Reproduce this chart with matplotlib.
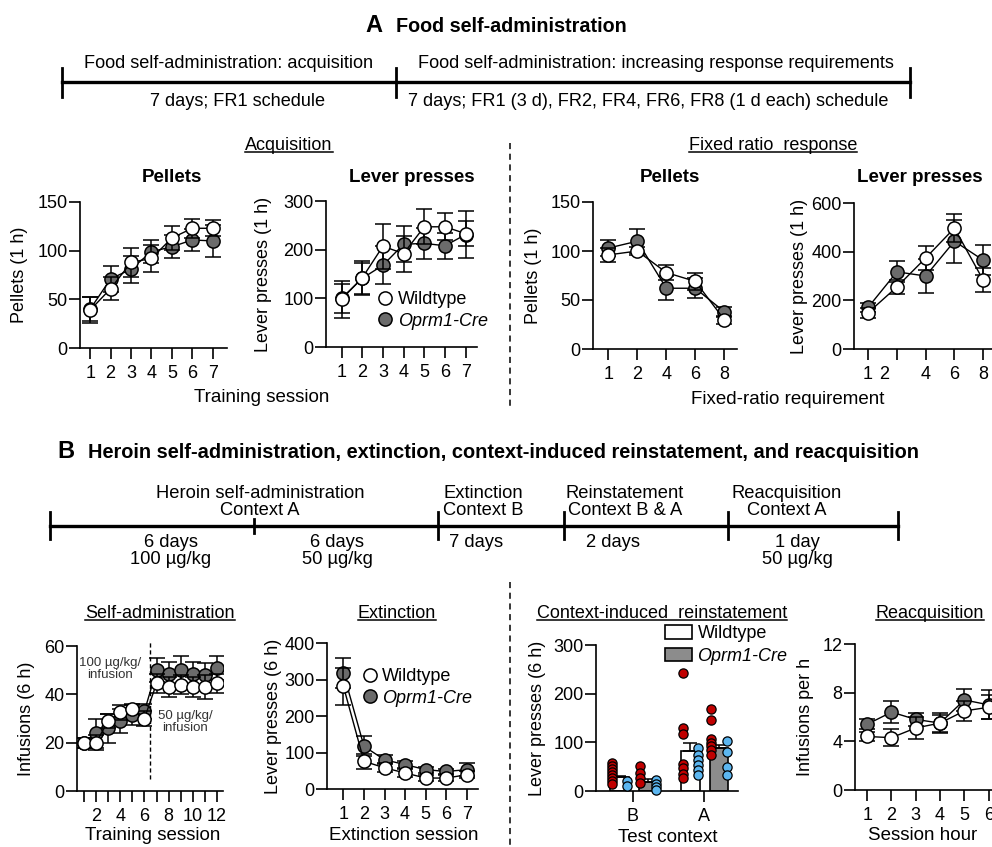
import matplotlib
matplotlib.use("Agg")
import matplotlib.pyplot as plt
from matplotlib.lines import Line2D
from matplotlib.patches import Patch

plt.rcParams["font.family"] = ["Liberation Sans", "DejaVu Sans"]

W, H = 992, 847
GRAY = "#6b6b6b"
BAR_GRAY = "#8c8c8c"
RED = "#c00000"
BLUE = "#5cb6f0"

# ---------------- A: food self-administration ----------------
acq_session = [1, 2, 3, 4, 5, 6, 7]
acq_pel_wt = [39, 61, 88, 92, 113, 123, 123]
acq_pel_wt_sem = [13, 12, 15, 14, 12, 10, 8]
acq_pel_cre = [40, 71, 81, 99, 104, 111, 110]
acq_pel_cre_sem = [12, 13, 14, 12, 12, 11, 16]
acq_lev_wt = [98, 142, 207, 192, 247, 247, 233]
acq_lev_wt_sem = [38, 35, 46, 37, 36, 28, 26]
acq_lev_cre = [100, 141, 168, 211, 213, 208, 231]
acq_lev_cre_sem = [30, 32, 39, 37, 32, 27, 49]

fr_labels = ["1", "2", "4", "6", "8"]
fr_pel_wt = [96, 100, 78, 69, 30]
fr_pel_wt_sem = [7, 4, 8, 9, 4]
fr_pel_cre = [103, 110, 62, 62, 38]
fr_pel_cre_sem = [8, 12, 12, 10, 5]
fr_lev_wt = [149, 255, 374, 497, 283]
fr_lev_wt_sem = [20, 30, 48, 59, 50]
fr_lev_cre = [171, 317, 300, 443, 365]
fr_lev_cre_sem = [20, 43, 68, 89, 62]

# ---------------- B: heroin ----------------
sa_session = [1, 2, 3, 4, 5, 6, 7, 8, 9, 10, 11, 12]
sa_wt = [20, 20, 29, 32.5, 34, 30, 44.5, 43, 44, 43, 43, 44.5]
sa_wt_sem = [2, 3, 3, 3, 2, 3, 4, 4, 4, 4, 5, 4]
sa_cre = [20, 24, 26, 29, 31.5, 33, 50, 48.5, 50, 48.5, 48, 51]
sa_cre_sem = [2, 6, 6, 5, 4, 3, 5, 5, 6, 5, 5, 5]

ext_session = [1, 2, 3, 4, 5, 6, 7]
ext_wt = [281, 76, 58, 44, 30, 30, 39]
ext_wt_sem = [50, 20, 12, 10, 8, 8, 10]
ext_cre = [318, 117, 80, 67, 53, 48, 53]
ext_cre_sem = [41, 27, 12, 10, 8, 8, 18]

reins_context = ["B", "A"]
reins_wt_mean = [28, 83]
reins_wt_sem = [3, 15]
reins_cre_mean = [19, 88]
reins_cre_sem = [5, 7]
reins_wt_red = [[58, 52, 46, 40, 33, 27, 20, 15], [243, 129, 118, 55, 47, 35, 26]]
reins_wt_blue = [[20, 11], [88, 74, 64, 53, 43, 33]]
reins_cre_red = [[51, 36, 26, 17], [168, 145, 107, 98, 92, 84, 74]]
reins_cre_blue = [[22, 15, 8, 2], [103, 81, 50, 33]]

reacq_hour = [1, 2, 3, 4, 5, 6]
reacq_wt = [4.4, 4.3, 5.1, 5.5, 6.5, 6.8]
reacq_wt_sem = [0.4, 0.7, 0.9, 0.8, 0.8, 1.0]
reacq_cre = [5.4, 6.4, 5.8, 5.5, 7.4, 7.0]
reacq_cre_sem = [0.4, 0.9, 0.5, 0.7, 0.9, 1.2]

fig = plt.figure(figsize=(W / 100, H / 100), dpi=100)

# overlay in pixel coordinates for headers / timelines
ov = fig.add_axes([0, 0, 1, 1])
ov.set_xlim(0, W)
ov.set_ylim(H, 0)
ov.axis("off")


def make_ax(left, right, top, bottom):
    return fig.add_axes([left / W, 1 - bottom / H, (right - left) / W, (bottom - top) / H])


def style_ax(ax, xlim, ylim, yticks, ylabel, ylabel_x):
    ax.set_xlim(xlim)
    ax.set_ylim(ylim)
    ax.set_yticks(yticks)
    for s in ("top", "right"):
        ax.spines[s].set_visible(False)
    for s in ("left", "bottom"):
        ax.spines[s].set_linewidth(1.2)
    ax.tick_params(direction="out", length=8, width=1.2, labelsize=13)
    ax.tick_params(axis="y", pad=1)
    ax.tick_params(axis="x", pad=4)
    ax.patch.set_visible(False)
    ax.set_ylabel(ylabel, fontsize=13)
    # ylabel_x in figure pixels
    bb = ax.get_position()
    ax.yaxis.set_label_coords((ylabel_x / W - bb.x0) / bb.width, 0.5)
    ax.yaxis.label.set_va("center")


def two_groups(ax, x, wt, wt_sem, cre, cre_sem):
    kw = dict(fmt="-o", color="black", mec="black", ms=9.5, mew=1.1, lw=1.0,
              capsize=5.5, capthick=1.1, elinewidth=1.1)
    ax.errorbar(x, cre, yerr=cre_sem, mfc=GRAY, zorder=3, **kw)
    ax.errorbar(x, wt, yerr=wt_sem, mfc="white", zorder=4, **kw)


def circle_legend(ax, anchor):
    handles = [Line2D([], [], marker="o", ls="none", mfc="white", mec="black", ms=9.5, mew=1.1),
               Line2D([], [], marker="o", ls="none", mfc=GRAY, mec="black", ms=9.5, mew=1.1)]
    leg = ax.legend(handles, ["Wildtype", "Oprm1-Cre"], loc="center left", bbox_to_anchor=anchor,
                    frameon=False, fontsize=13, handletextpad=0.1, labelspacing=0.25,
                    handlelength=1.2, borderaxespad=0, borderpad=0)
    leg.get_texts()[1].set_style("italic")


# ---- A1 pellets acquisition
ax1 = make_ax(80, 227, 202, 348)
two_groups(ax1, acq_session, acq_pel_wt, acq_pel_wt_sem, acq_pel_cre, acq_pel_cre_sem)
style_ax(ax1, (0.5, 7.7), (0, 150), [0, 50, 100, 150], "Pellets (1 h)", 19)
ax1.set_xticks(acq_session)

# ---- A2 lever presses acquisition
ax2 = make_ax(326, 477, 201, 347)
two_groups(ax2, acq_session, acq_lev_wt, acq_lev_wt_sem, acq_lev_cre, acq_lev_cre_sem)
style_ax(ax2, (0.25, 7.55), (0, 300), [0, 100, 200, 300], "Lever presses (1 h)", 264)
ax2.set_xticks(acq_session)
circle_legend(ax2, (0.32, 0.25))

# ---- A3 pellets fixed ratio
fr_pos = list(range(len(fr_labels)))
ax3 = make_ax(593, 737, 202, 349)
two_groups(ax3, fr_pos, fr_pel_wt, fr_pel_wt_sem, fr_pel_cre, fr_pel_cre_sem)
style_ax(ax3, (-0.53, 4.44), (0, 150), [0, 50, 100, 150], "Pellets (1 h)", 533)
ax3.set_xticks(fr_pos)
ax3.set_xticklabels(fr_labels)

# ---- A4 lever presses fixed ratio (runs off the right edge)
ax4 = make_ax(854, 1012, 203, 349)
two_groups(ax4, fr_pos, fr_lev_wt, fr_lev_wt_sem, fr_lev_cre, fr_lev_cre_sem)
style_ax(ax4, (-0.49, 5.0), (0, 600), [0, 200, 400, 600], "Lever presses (1 h)", 800)
ax4.set_xticks(fr_pos)
ax4.set_xticklabels([fr_labels[0], ""] + fr_labels[2:])
ax4.set_xticks([0.56], [fr_labels[1]], minor=True)
ax4.tick_params(axis="x", which="minor", length=0, labelsize=13, pad=12.5)

# ---- B1 self-administration
ax5 = make_ax(77, 223, 646, 791)
two_groups(ax5, sa_session, sa_wt, sa_wt_sem, sa_cre, sa_cre_sem)
style_ax(ax5, (0.42, 12.5), (0, 60), [0, 20, 40, 60], "Infusions (6 h)", 27)
ax5.set_xticks(sa_session)
ax5.set_xticklabels([str(s) if s % 2 == 0 else "" for s in sa_session])
ax5.plot([6.5, 6.5], [5, 62], ls=(0, (3, 2)), color="black", lw=1.0, clip_on=False, zorder=2)
ax5.text(3.15, 50.5, "100 µg/kg/\ninfusion", ha="center", va="center", fontsize=9.5,
         color="#333333", linespacing=1.05, zorder=5)
ax5.text(9.35, 28.5, "50 µg/kg/\ninfusion", ha="center", va="center", fontsize=9.5,
         color="#333333", linespacing=1.05, zorder=5)

# ---- B2 extinction
ax6 = make_ax(327, 478, 643, 789)
two_groups(ax6, ext_session, ext_wt, ext_wt_sem, ext_cre, ext_cre_sem)
style_ax(ax6, (0.2, 7.55), (0, 400), [0, 100, 200, 300, 400], "Lever presses (6 h)", 273)
ax6.set_xticks(ext_session)
circle_legend(ax6, (0.21, 0.695))

# ---- B3 reinstatement
ax7 = make_ax(596, 738, 645, 791)
ctx = list(range(len(reins_context)))
wt_off, cre_off, dot_off, bw = -0.19, 0.21, 0.11, 0.26
bar_kw = dict(width=bw, edgecolor="black", linewidth=1.2, capsize=5, zorder=2,
              error_kw=dict(elinewidth=1.1, capthick=1.1, ecolor="black"))
ax7.bar([c + wt_off for c in ctx], reins_wt_mean, color="white",
        yerr=[[0] * len(ctx), reins_wt_sem], **bar_kw)
ax7.bar([c + cre_off for c in ctx], reins_cre_mean, color=BAR_GRAY,
        yerr=[[0] * len(ctx), reins_cre_sem], **bar_kw)
dot_kw = dict(s=44, edgecolors="black", linewidths=0.9, zorder=4, clip_on=False)
for c in ctx:
    ax7.scatter([c + wt_off - dot_off] * len(reins_wt_red[c]), reins_wt_red[c], c=RED, **dot_kw)
    ax7.scatter([c + wt_off + dot_off] * len(reins_wt_blue[c]), reins_wt_blue[c], c=BLUE, **dot_kw)
    ax7.scatter([c + cre_off - dot_off] * len(reins_cre_red[c]), reins_cre_red[c], c=RED, **dot_kw)
    ax7.scatter([c + cre_off + dot_off] * len(reins_cre_blue[c]), reins_cre_blue[c], c=BLUE, **dot_kw)
style_ax(ax7, (-0.52, 1.48), (0, 300), [0, 100, 200, 300], "Lever presses (6 h)", 537)
ax7.set_xticks(ctx)
ax7.set_xticklabels(reins_context)
leg = ax7.legend([Patch(facecolor="white", edgecolor="black", lw=1.2),
                  Patch(facecolor=BAR_GRAY, edgecolor="black", lw=1.2)],
                 ["Wildtype", "Oprm1-Cre"], loc="center left", bbox_to_anchor=(0.486, 1.0),
                 frameon=False, fontsize=13, handlelength=1.5, handleheight=0.8,
                 handletextpad=0.3, labelspacing=0.28, borderaxespad=0, borderpad=0)
leg.get_texts()[1].set_style("italic")

# ---- B4 reacquisition (runs off the right edge)
ax8 = make_ax(855, 1013, 644, 790)
two_groups(ax8, reacq_hour, reacq_wt, reacq_wt_sem, reacq_cre, reacq_cre_sem)
style_ax(ax8, (0.5, 7.0), (0, 12), [0, 4, 8, 12], "Infusions per h", 805)
ax8.set_xticks(reacq_hour)

# ---------------- headers, timelines, titles ----------------
ov.text(374, 26, "A", ha="center", va="center", fontsize=17, fontweight="bold")
ov.text(396, 27, "Food self-administration", ha="left", va="center", fontsize=14.2, fontweight="bold")
ov.text(66, 452, "B", ha="center", va="center", fontsize=17, fontweight="bold")
ov.text(88, 453, "Heroin self-administration, extinction, context-induced reinstatement, and reacquisition",
        ha="left", va="center", fontsize=14.4, fontweight="bold")

# timeline A
ov.plot([62, 910], [82, 82], color="black", lw=2.4)
for x in [62, 396, 910]:
    ov.plot([x, x], [68, 97], color="black", lw=2)
tl_a_top = ["Food self-administration: acquisition",
            "Food self-administration: increasing response requirements"]
tl_a_bot = ["7 days; FR1 schedule",
            "7 days; FR1 (3 d), FR2, FR4, FR6, FR8 (1 d each) schedule"]
for x, s in zip([229, 656], tl_a_top):
    ov.text(x, 63, s, ha="center", va="center", fontsize=13.1)
for x, s in zip([238, 648], tl_a_bot):
    ov.text(x, 102, s, ha="center", va="center", fontsize=13.1)

# timeline B
ov.plot([50, 898], [526, 526], color="black", lw=2.4)
for x in [50, 438, 564, 728, 898]:
    ov.plot([x, x], [512, 539], color="black", lw=2)
ov.plot([254, 254], [519, 533], color="black", lw=2)
tl_b_top = ["Heroin self-administration\nContext A", "Extinction\nContext B",
            "Reinstatement\nContext B & A", "Reacquisition\nContext A"]
tl_b_bot = ["6 days\n100 µg/kg", "6 days\n50 µg/kg", "7 days", "2 days", "1 day\n50 µg/kg"]
for x, s in zip([260, 483, 625, 787], tl_b_top):
    ov.text(x, 519, s, ha="center", va="bottom", fontsize=13.2, linespacing=1.0)
for x, s in zip([171, 337, 476, 613, 797], tl_b_bot):
    ov.text(x, 534, s, ha="center", va="top", fontsize=13.2, linespacing=1.0)

# separators
ov.plot([510, 510], [143, 407], color="black", lw=1.1, ls=(0, (4, 3)))
ov.plot([510, 510], [582, 845], color="black", lw=1.1, ls=(0, (4, 3)))

# panel titles
for x, s in zip([172, 412, 670, 920], ["Pellets", "Lever presses", "Pellets", "Lever presses"]):
    ov.text(x, 177, s, ha="center", va="center", fontsize=13.5, fontweight="bold")

# axis x labels
xlabels = [(262, 397, "Training session"), (788, 400, "Fixed-ratio requirement"),
           (153, 835, "Training session"), (404, 835, "Extinction session"),
           (668, 838, "Test context"), (923, 835, "Session hour")]
for x, y, s in xlabels:
    ov.text(x, y, s, ha="center", va="center", fontsize=13.5)

# underlined section titles
sections = [(289, 145, "Acquisition"), (773, 145, "Fixed ratio  response"),
            (160, 613, "Self-administration"), (397, 613, "Extinction"),
            (662, 613, "Context-induced  reinstatement"), (930, 613, "Reacquisition")]
sec_texts = [ov.text(x, y, s, ha="center", va="center", fontsize=13) for x, y, s in sections]

fig.canvas.draw()
renderer = fig.canvas.get_renderer()
for t in sec_texts:
    bb = t.get_window_extent(renderer)
    ov.plot([bb.x0, bb.x1], [H - bb.y0 - 1, H - bb.y0 - 1], color="black", lw=1.1)

fig.savefig("out.png", dpi=100)
